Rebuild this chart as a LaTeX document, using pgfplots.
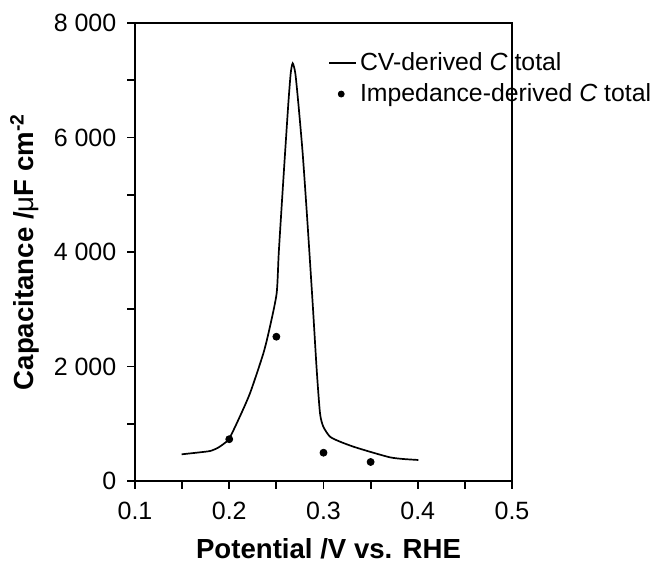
\documentclass[border=0pt]{standalone}
\usepackage{fontspec}
\setmainfont{Liberation Sans}
\usepackage{pgfplots}
\usepackage{pgfplotstable}
\pgfplotsset{compat=1.18}

\pgfplotsset{
  cvleg/.style={legend image code/.code={\draw[##1] (0pt,0pt) -- (13.5pt,0pt);}},
  impleg/.style={legend image code/.code={\draw[##1, mark size=1.5pt] plot coordinates {(6pt,0pt)};}},
}

\pgfplotstableread{
x y
0.1495 466
0.1690 501
0.1800 525
0.1880 580
0.1950 660
0.2000 740
0.2096 1066
0.2220 1532
0.2362 2230
0.2432 2696
0.2503 3279
0.2525 3977
0.2558 4850
0.2592 5724
0.2627 6597
0.2652 7121
0.2673 7296
0.2701 7121
0.2733 6597
0.2779 5724
0.2828 4560
0.2885 3104
0.2928 1939
0.2963 1182
0.2998 949
0.3069 774
0.3175 687
0.3316 600
0.3490 512
0.3706 413
0.3847 384
0.4006 367
}\cvdata

\pgfplotstableread{
x y
0.20 730
0.25 2520
0.30 494
0.35 332
}\impdata

\begin{document}
\begin{tikzpicture}
\begin{axis}[
  name=ax,
  scale only axis,
  width=188.5pt, height=229pt,
  xmin=0.1, xmax=0.5, ymin=0, ymax=8000,
  xtick={0.1,0.2,0.3,0.4,0.5},
  xticklabels={0.1,0.2,0.3,0.4,0.5},
  minor xtick={0.15,0.25,0.35,0.45},
  ytick={0,2000,4000,6000,8000},
  yticklabels={0,2 000,4 000,6 000,8 000},
  minor ytick={1000,3000,5000,7000},
  tick align=outside, xtick pos=bottom, ytick pos=left,
  major tick length=4pt, minor tick length=4pt,
  axis line style={line width=0.9pt},
  tick style={line width=0.9pt, black},
  yticklabel style={font=\fontsize{12.5}{14}\selectfont, xshift=-1.8pt},
  xticklabel style={font=\fontsize{12.5}{14}\selectfont, yshift=-3pt},
  xlabel={\bfseries Potential /V vs. RHE},
  ylabel={\bfseries Capacitance /{\mdseries μ}F cm\textsuperscript{-2}},
  label style={font=\fontsize{13.8}{16}\selectfont},
  xlabel style={at={(axis description cs:0.5,0)}, anchor=base, yshift=-39pt, xshift=2.5pt},
  ylabel style={at={(axis description cs:0,0.5)}, anchor=base, yshift=50.5pt},
  legend style={at={(axis cs:0.2984,7560)}, anchor=north west, draw=none, fill=none,
    font=\fontsize{12.4}{14}\selectfont, row sep=5pt,
    nodes={inner sep=0pt},
    /tikz/every odd column/.append style={column sep=1.5pt}},
  legend cell align=left,
]
\addplot[black, line width=0.85pt, smooth, tension=0.4, cvleg]
  table[x=x, y=y] {\cvdata};
\addlegendentry{CV-derived \textit{C} total}
\addplot[black, only marks, mark=*, mark size=1.75pt, impleg]
  table[x=x, y=y] {\impdata};
\addlegendentry{Impedance-derived \textit{C} total}
\end{axis}
\pgfresetboundingbox
\path[use as bounding box] ([shift={(-67.5pt,-40.5pt)}]ax.south west) rectangle ([shift={(69pt,11.5pt)}]ax.north east);
\end{tikzpicture}
\end{document}
